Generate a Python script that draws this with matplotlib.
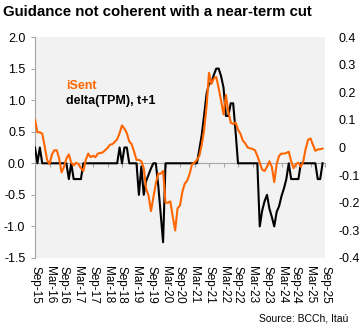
import numpy as np
import matplotlib
matplotlib.use('Agg')
import matplotlib.pyplot as plt
from matplotlib.ticker import FuncFormatter

plt.rcParams['font.family'] = ['Liberation Sans', 'DejaVu Sans']

# monthly data, Sep-15 .. Aug-25
tick_labels = ['Sep-15', 'Mar-16', 'Sep-16', 'Mar-17', 'Sep-17', 'Mar-18', 'Sep-18',
               'Mar-19', 'Sep-19', 'Mar-20', 'Sep-20', 'Mar-21', 'Sep-21', 'Mar-22',
               'Sep-22', 'Mar-23', 'Sep-23', 'Mar-24', 'Sep-24', 'Mar-25', 'Sep-25']

# delta(TPM), t+1  (left axis)
tpm_delta = [
    0.25, 0, 0.25, 0, 0, 0, 0, 0, 0, 0,
    0, 0, 0, 0, -0.25, 0, -0.25, -0.25, -0.25, -0.25,
    0, 0, 0, 0, 0, 0, 0, 0, 0, 0,
    0, 0, 0, 0, 0, 0.25, 0, 0.25, 0.25, 0,
    0, 0, 0, -0.5, -0.05, -0.5, -0.28, -0.18, -0.08, 0,
    0, -0.35, -0.8, -1.25, 0, 0, 0, 0, 0, 0,
    0, 0, 0, 0, 0, 0, 0, 0, 0.22, 0.45,
    0.77, 1.1, 1.26, 1.28, 1.4, 1.5, 1.5, 1.38, 1.2, 0.75,
    0.75, 0.95, 0.95, 0.5, 0, 0, 0, 0, 0, 0,
    0, 0, 0, -1.0, -0.75, -0.6, -0.5, -0.72, -0.85, -1.0,
    -0.77, -0.68, -0.52, -0.4, -0.25, 0, -0.25, -0.25, -0.25, -0.25,
    0, 0, 0, 0, 0, 0, 0, -0.25, -0.25, 0,
]

# iSent  (right axis)
isent = [
    0.10, 0.055, 0.055, 0.05, 0.005, -0.045, -0.06, -0.025, -0.01, -0.01,
    -0.04, -0.09, -0.07, -0.04, -0.025, -0.055, -0.065, -0.055, -0.06, -0.075,
    -0.085, -0.045, -0.022, -0.035, -0.03, -0.035, -0.022, -0.02, -0.018, -0.01,
    -0.002, 0.01, 0.012, 0.02, 0.03, 0.052, 0.08, 0.068, 0.052, 0.022,
    0.012, -0.015, -0.045, -0.045, -0.05, -0.075, -0.15, -0.175, -0.23, -0.18,
    -0.13, -0.095, -0.095, -0.085, -0.2, -0.2, -0.195, -0.25, -0.30, -0.22,
    -0.21, -0.16, -0.13, -0.12, -0.095, -0.06, -0.055, -0.045, -0.03, 0.01,
    0.065, 0.15, 0.27, 0.23, 0.25, 0.255, 0.215, 0.17, 0.12, 0.19,
    0.13, 0.09, 0.085, 0.09, 0.065, 0.05, 0.025, 0.015, 0.0, -0.003,
    -0.005, -0.01, -0.03, -0.055, -0.08, -0.085, -0.07, -0.05, -0.07, -0.125,
    -0.06, -0.03, -0.022, -0.022, -0.02, -0.015, -0.05, -0.075, -0.06, -0.055,
    -0.07, -0.05, -0.005, 0.028, 0.033, 0.01, -0.012, -0.007, -0.006, -0.004,
]

ORANGE = '#FF6600'
GRID_GREY = '#A6A6A6'

months = np.arange(len(tpm_delta))
tick_pos = np.arange(0, 121, 6)

fig = plt.figure(figsize=(3.6, 3.28), dpi=100)
ax = fig.add_axes([35 / 360, 1 - 258 / 328, 290 / 360, 221 / 328])
ax.set_facecolor('#F2F2F2')

# black line on the left axis
l_tpm, = ax.plot(months, tpm_delta, color='black', lw=1.5, label='delta(TPM), t+1', zorder=3)
ax.set_xlim(0, 120)
ax.set_ylim(-1.5, 2.0)
ax.set_yticks(np.arange(-1.5, 2.01, 0.5))
ax.yaxis.set_major_formatter(FuncFormatter(lambda v, p: f'{v:.1f}'))
ax.tick_params(axis='y', direction='out', length=3, width=0.8, color=GRID_GREY,
               labelsize=9, pad=4)
for s in ['top', 'right']:
    ax.spines[s].set_visible(False)
ax.spines['left'].set_color(GRID_GREY)
ax.spines['left'].set_linewidth(0.8)

# horizontal axis drawn at zero, with small ticks; labels at the bottom
ax.spines['bottom'].set_position(('data', 0))
ax.spines['bottom'].set_color(GRID_GREY)
ax.spines['bottom'].set_linewidth(0.8)
ax.spines['bottom'].set_zorder(1)
ax.set_xticks(tick_pos)
ax.tick_params(axis='x', direction='out', length=3, width=0.8, color=GRID_GREY,
               labelbottom=False)

secax = ax.secondary_xaxis('bottom')
secax.set_xticks(tick_pos)
secax.set_xticklabels(tick_labels, rotation=-90, fontsize=8.5)
secax.tick_params(axis='x', length=0, pad=6)
secax.spines['bottom'].set_visible(False)

# orange line on the right axis
ax2 = ax.twinx()
l_isent, = ax2.plot(months, isent, color=ORANGE, lw=1.5, label='iSent')
ax2.set_ylim(-0.4, 0.4)
ax2.set_yticks(np.arange(-0.4, 0.41, 0.1))
ax2.yaxis.set_major_formatter(FuncFormatter(lambda v, p: '0' if abs(v) < 1e-9 else f'{v:.1f}'))
ax2.tick_params(axis='y', length=0, labelsize=9, pad=10)
for s in ax2.spines.values():
    s.set_visible(False)

leg = ax2.legend(handles=[l_isent, l_tpm], loc='upper left', bbox_to_anchor=(0.085, 0.835),
                 frameon=False, handlelength=0, handletextpad=0, borderpad=0,
                 labelspacing=0.25, labelcolor='linecolor',
                 prop={'weight': 'bold', 'size': 9})

fig.text(0.008, 0.985, 'Guidance not coherent with a near-term cut', fontsize=10.8,
         fontweight='bold', ha='left', va='top')
fig.text(0.967, 0.03, 'Source: BCCh, Itaú', fontsize=7.5, ha='right', va='center')

fig.savefig('out.png', dpi=100)
